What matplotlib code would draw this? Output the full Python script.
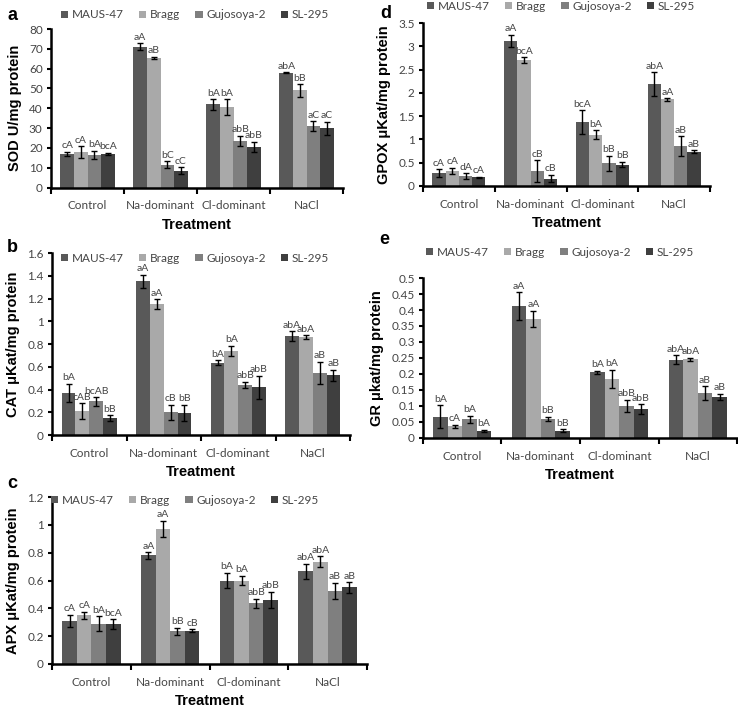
import numpy as np
import matplotlib
matplotlib.use("Agg")
import matplotlib.pyplot as plt
from matplotlib.ticker import FuncFormatter

W, H = 738, 709

treatments = ["Control", "Na-dominant", "Cl-dominant", "NaCl"]
cultivars = ["MAUS-47", "Bragg", "Gujosoya-2", "SL-295"]
colors = ["#595959", "#a9a9a9", "#7f7f7f", "#3f3f3f"]

# values per cultivar, one entry per treatment
sod = [[17, 71, 42, 58], [18, 65.5, 40.5, 49], [16.5, 11.5, 23.5, 31], [17, 8.5, 20.5, 30]]
sod_err = [[1, 1.8, 2.7, 0.3], [3, 0.5, 4, 3.2], [2, 1.8, 2.7, 2.5], [0.5, 1.8, 2.7, 3.3]]
sod_lab = [["cA", "aA", "bA", "abA"], ["cA", "aB", "bA", "bB"], ["bA", "bC", "abB", "aC"], ["bcA", "cC", "abB", "aC"]]

cat = [[0.37, 1.35, 0.635, 0.87], [0.21, 1.15, 0.74, 0.86], [0.295, 0.2, 0.44, 0.545], [0.15, 0.195, 0.42, 0.525]]
cat_err = [[0.08, 0.06, 0.02, 0.04], [0.07, 0.045, 0.045, 0.02], [0.04, 0.065, 0.03, 0.1], [0.025, 0.07, 0.1, 0.05]]
cat_lab = [["bA", "aA", "bA", "abA"], ["cAB", "aA", "bA", "abA"], ["bcAB", "cB", "abB", "aB"], ["bB", "bB", "abB", "aB"]]

apx = [[0.31, 0.78, 0.6, 0.665], [0.35, 0.97, 0.6, 0.735], [0.29, 0.235, 0.435, 0.525], [0.285, 0.24, 0.46, 0.55]]
apx_err = [[0.045, 0.025, 0.055, 0.055], [0.025, 0.06, 0.035, 0.04], [0.055, 0.025, 0.035, 0.06], [0.035, 0.012, 0.06, 0.04]]
apx_lab = [["cA", "aA", "bA", "abA"], ["cA", "aA", "bA", "abA"], ["bA", "bB", "abB", "aB"], ["bcA", "cB", "abB", "aB"]]

gpox = [[0.28, 3.12, 1.37, 2.19], [0.32, 2.71, 1.1, 1.86], [0.21, 0.32, 0.49, 0.86], [0.19, 0.16, 0.46, 0.74]]
gpox_err = [[0.08, 0.125, 0.26, 0.25], [0.07, 0.06, 0.1, 0.03], [0.07, 0.24, 0.16, 0.21], [0.01, 0.08, 0.06, 0.03]]
gpox_lab = [["cA", "aA", "bcA", "abA"], ["cA", "bcA", "bA", "aA"], ["dA", "cB", "bB", "aB"], ["cA", "cB", "bB", "aB"]]

gr = [[0.067, 0.412, 0.205, 0.245], [0.037, 0.372, 0.185, 0.246], [0.058, 0.06, 0.1, 0.14], [0.023, 0.023, 0.09, 0.129]]
gr_err = [[0.035, 0.043, 0.005, 0.013], [0.005, 0.026, 0.028, 0.005], [0.012, 0.007, 0.02, 0.022], [0.003, 0.004, 0.015, 0.01]]
gr_lab = [["bA", "aA", "bA", "abA"], ["cA", "aA", "bA", "abA"], ["bA", "bB", "abB", "aB"], ["bA", "bB", "abB", "aB"]]

# panel: (letter, data, err, labels, ylabel, ymax, ystep, axes box px (l, t, r, b), legend center px, letter pos px)
panels = [
    ("a", sod, sod_err, sod_lab, "SOD U/mg protein", 80, 10, (51, 29, 343, 187.5), (195, 15), (8, 15)),
    ("b", cat, cat_err, cat_lab, "CAT \u03bcKat/mg protein", 1.6, 0.2, (52, 253, 350, 435), (195, 258), (7, 247)),
    ("c", apx, apx_err, apx_lab, "APX \u03bcKat/mg protein", 1.2, 0.2, (52, 497, 367, 664), (185, 500), (7, 483)),
    ("d", gpox, gpox_err, gpox_lab, "GPOX \u03bcKat/mg protein", 3.5, 0.5, (423, 23, 710, 186), (561, 6), (380, 13)),
    ("e", gr, gr_err, gr_lab, "GR \u03bckat/mg protein", 0.5, 0.05, (423, 278, 737, 438), (560, 252), (379, 240)),
]

tick_font = "Lato"
tick_col = "#454545"

fig = plt.figure(figsize=(W / 100, H / 100), dpi=100)

x = np.arange(len(treatments))
bw = 0.185

for letter, vals, errs, labs, ylab, ymax, ystep, box, leg, lpos in panels:
    l, t, r, b = box
    ax = fig.add_axes([l / W, 1 - b / H, (r - l) / W, (b - t) / H])
    handles = []
    for i in range(4):
        xi = x + (i - 1.5) * bw
        bars = ax.bar(xi, vals[i], bw, color=colors[i], zorder=2)
        ax.errorbar(xi, vals[i], yerr=errs[i], fmt="none", ecolor="black",
                    elinewidth=1, capsize=2.2, capthick=1, zorder=3)
        handles.append(bars)
        for j in range(4):
            ax.annotate(labs[i][j], (xi[j], vals[i][j] + errs[i][j]),
                        xytext=(0, 1), textcoords="offset points",
                        ha="center", va="bottom", fontsize=7.5,
                        family=tick_font, color=tick_col)
    ax.set_xlim(-0.5, 3.5)
    ax.set_ylim(0, ymax)
    ax.set_yticks(np.arange(0, ymax + ystep / 2, ystep))
    ax.yaxis.set_major_formatter(FuncFormatter(lambda v, p: ("%.2f" % v).rstrip("0").rstrip(".")))
    ax.set_xticks([-0.5, 0.5, 1.5, 2.5, 3.5])
    ax.set_xticklabels([])
    ax.set_xticks(x, minor=True)
    ax.set_xticklabels(treatments, minor=True)
    ax.tick_params(axis="x", which="major", direction="out", length=4, width=1.5)
    ax.tick_params(axis="x", which="minor", length=0, pad=9)
    ax.tick_params(axis="y", direction="out", length=3, width=1.5, pad=3)
    for lbl in ax.get_yticklabels() + ax.get_xticklabels(minor=True):
        lbl.set_fontfamily(tick_font)
        lbl.set_fontsize(8.5)
        lbl.set_color(tick_col)
    for s in ["top", "right"]:
        ax.spines[s].set_visible(False)
    for s in ["left", "bottom"]:
        ax.spines[s].set_linewidth(1.8)
    ax.set_ylabel(ylab, fontsize=10.5, fontweight="bold", family="Liberation Sans", labelpad=5)
    ax.set_xlabel("Treatment", fontsize=10.5, fontweight="bold", family="Liberation Sans", labelpad=5)
    fig.legend(handles, cultivars, loc="center", ncol=4, frameon=False,
               bbox_to_anchor=(leg[0] / W, 1 - leg[1] / H),
               prop={"family": tick_font, "size": 8.5}, labelcolor=tick_col,
               handlelength=0.6, handleheight=0.6, handletextpad=0.3,
               columnspacing=1.3, borderpad=0)
    fig.text(lpos[0] / W, 1 - lpos[1] / H, letter, fontsize=13, fontweight="bold",
             family="Liberation Sans", ha="left", va="center")

fig.savefig("out.png", dpi=100)
